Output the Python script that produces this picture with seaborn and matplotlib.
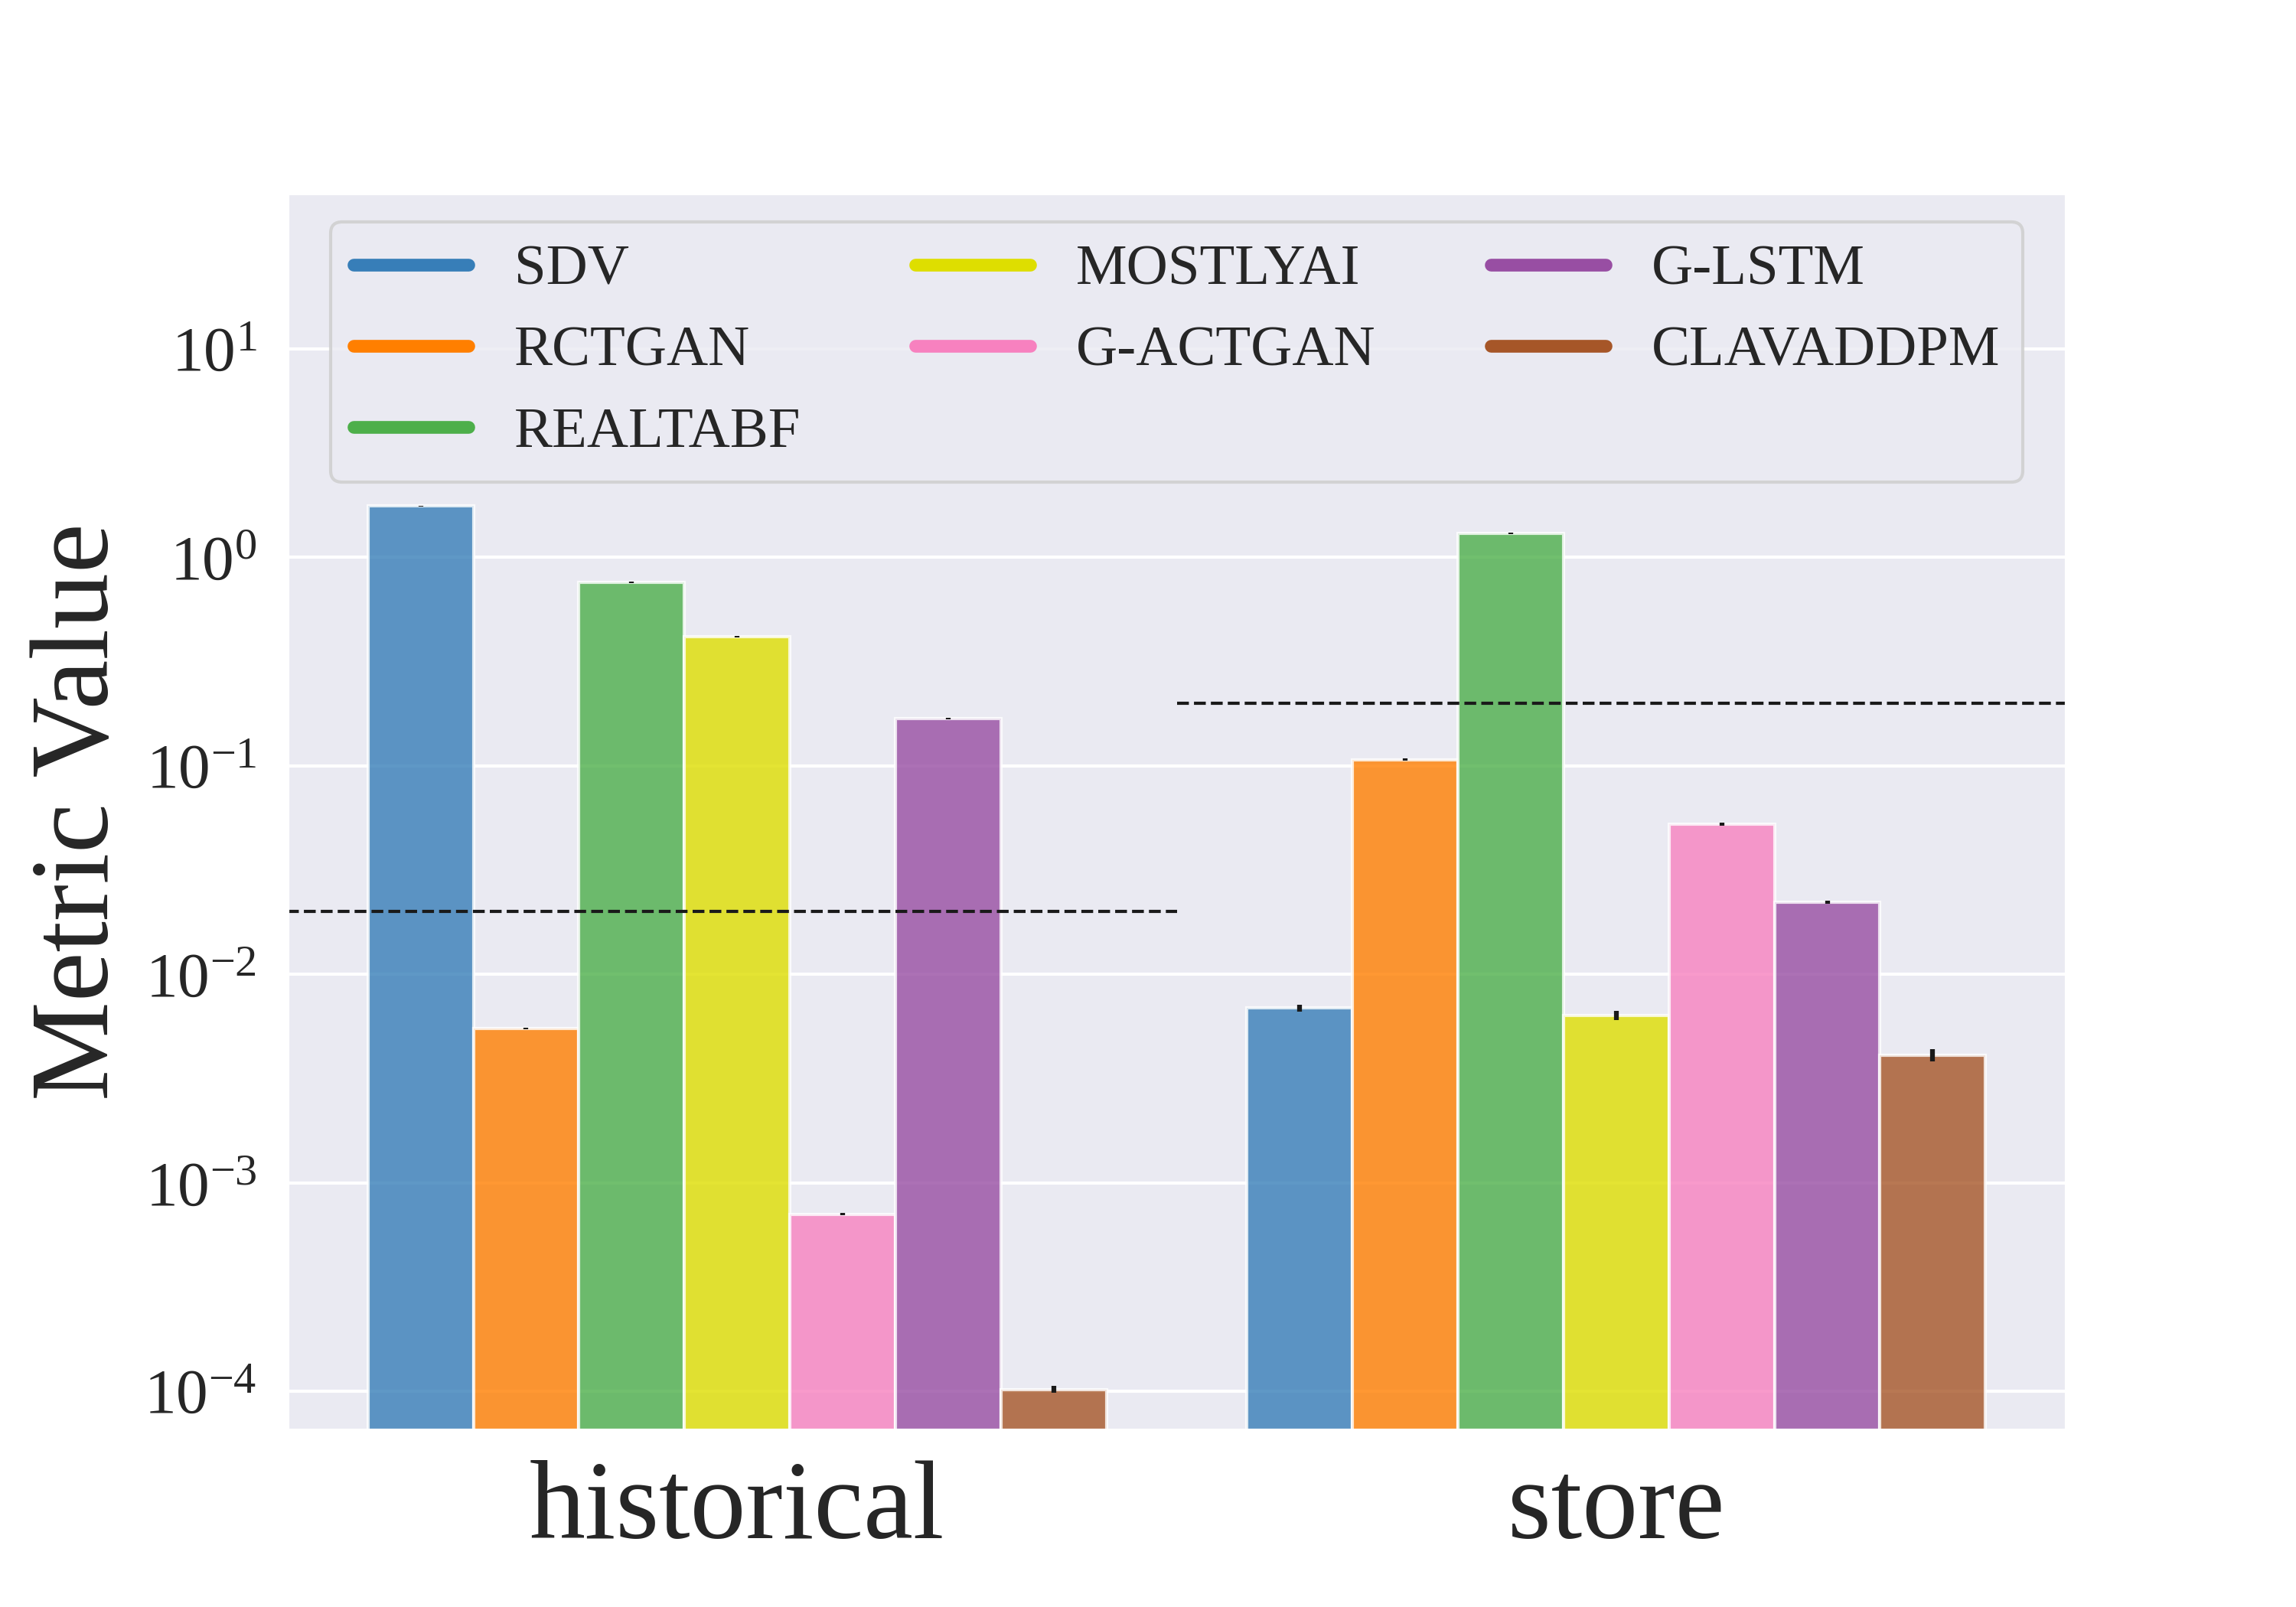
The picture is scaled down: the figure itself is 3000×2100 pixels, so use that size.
import numpy as np
import pandas as pd
import seaborn as sns
import matplotlib.pyplot as plt
from matplotlib.lines import Line2D

tables = ["historical", "store"]
methods = ["SDV", "RCTGAN", "REALTABF", "MOSTLYAI", "G-ACTGAN", "G-LSTM", "CLAVADDPM"]
colors = ["#377eb8", "#ff7f00", "#4daf4a", "#dede00", "#f781bf", "#984ea3", "#a65628"]

historical_values = [1.76, 0.00548, 0.76, 0.417, 0.000705, 0.168, 0.000102]
store_values = [0.0069, 0.107, 1.30, 0.00635, 0.0523, 0.0221, 0.0041]
historical_err = [0.01, 0.00005, 0.005, 0.004, 0.000009, 0.0015, 0.0000038]
store_err = [0.00027, 0.0014, 0.011, 0.0003, 0.0009, 0.00037, 0.00028]
thresholds = [0.02, 0.2]

sns.set_theme(style="darkgrid")
plt.rcParams["font.family"] = ["Liberation Serif", "DejaVu Serif"]
plt.rcParams["mathtext.fontset"] = "stix"

data = pd.DataFrame({
    "table": np.repeat(tables, len(methods)),
    "method": methods * 2,
    "value": historical_values + store_values,
})

f, ax = plt.subplots(figsize=(10, 7), dpi=300)

sns.barplot(data, x="table", y="value", hue="method", hue_order=methods,
            palette=colors, saturation=1, alpha=0.8, width=0.84, edgecolor="white",
            linewidth=1, errorbar=None, legend=False, ax=ax)
ax.set_yscale("log")

# error bars on top of each bar
bar_groups = list(ax.containers)
for i, cont in enumerate(bar_groups):
    xs = [b.get_x() + b.get_width() / 2 for b in cont.patches]
    ys = [historical_values[i], store_values[i]]
    errs = [historical_err[i], store_err[i]]
    ax.errorbar(xs, ys, yerr=errs, fmt="none", ecolor="k", elinewidth=1.5, capsize=0)

# per-table reference lines
ax.axhline(thresholds[0], xmin=0, xmax=0.5, color="k", ls="--", lw=1)
ax.axhline(thresholds[1], xmin=0.5, xmax=1, color="k", ls="--", lw=1)

ax.set_xlim(-0.512, 1.512)
ax.set_ylim(6.5e-5, 56)
ax.set_xlabel("")
ax.set_ylabel("Metric Value", fontsize=35)
ax.tick_params(axis="x", labelsize=35)
ax.tick_params(axis="y", labelsize=20)

handles = [Line2D([0], [0], color=c, lw=4) for c in colors]
ax.legend(handles, methods, ncol=3, loc="upper center", fontsize=18, columnspacing=2.0)

f.savefig("out.png", dpi=300)
